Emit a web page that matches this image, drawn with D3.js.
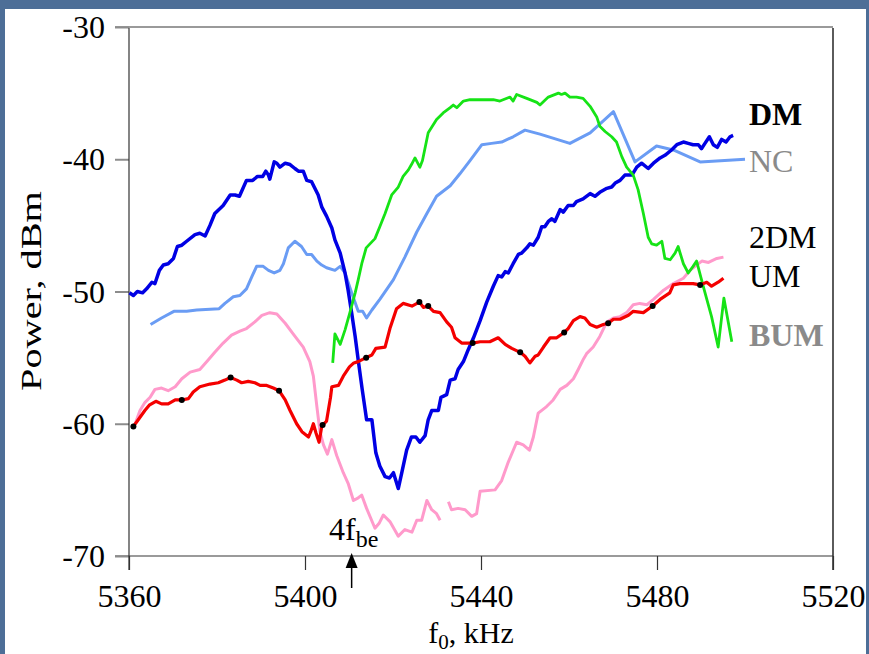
<!DOCTYPE html>
<html>
<head>
<meta charset="utf-8">
<script src="https://cdn.jsdelivr.net/npm/d3@7"></script>
<style>
  html, body { margin: 0; padding: 0; background: #4d6e97; }
  svg { display: block; }
</style>
</head>
<body>
<svg id="chart" width="869" height="654"></svg>
<script>
// Spectrum of the emission components vs. pump frequency f0 (kHz), power in dBm.
const xTicks = [5360, 5400, 5440, 5480, 5520];
const yTicks = [-30, -40, -50, -60, -70];
const fbe4 = 5410.6; // 4 x electron gyro-frequency marker

// DM
const dm = [[5360.1,-50.1],[5361.0,-50.3],[5361.9,-50.0],[5363.1,-50.1],[5364.0,-49.8],[5365.2,-49.3],[5365.9,-49.4],[5366.9,-48.4],[5367.8,-48.0],[5368.9,-47.9],[5370.1,-47.5],[5371.0,-46.6],[5372.0,-46.5],[5373.1,-46.2],[5375.0,-45.7],[5376.1,-45.6],[5377.3,-45.8],[5378.4,-45.0],[5379.5,-44.1],[5381.4,-43.5],[5383.0,-42.7],[5384.1,-42.7],[5385.1,-42.8],[5386.7,-41.6],[5388.1,-41.6],[5389.2,-41.3],[5390.4,-41.3],[5391.1,-40.9],[5391.7,-41.2],[5392.0,-41.5],[5393.0,-40.2],[5393.6,-40.3],[5394.3,-40.6],[5395.5,-40.3],[5396.6,-40.4],[5397.7,-40.7],[5398.5,-40.9],[5399.6,-40.9],[5400.4,-41.6],[5401.5,-41.7],[5403.0,-42.7],[5403.8,-43.6],[5404.9,-44.3],[5406.1,-45.2],[5406.8,-46.1],[5408.0,-47.1],[5409.1,-48.6],[5409.8,-49.9],[5410.6,-51.6],[5411.4,-53.4],[5412.1,-55.2],[5413.0,-57.4],[5414.0,-59.7],[5415.2,-59.7],[5416.1,-62.2],[5417.0,-63.2],[5418.2,-64.0],[5419.2,-64.1],[5420.1,-63.7],[5421.2,-64.9],[5422.0,-63.7],[5423.1,-62.0],[5424.2,-61.0],[5425.2,-61.0],[5426.1,-61.4],[5427.3,-60.9],[5428.0,-59.7],[5428.8,-59.0],[5430.3,-59.0],[5430.9,-58.0],[5432.2,-57.8],[5433.0,-56.7],[5434.1,-56.6],[5434.8,-55.9],[5436.0,-55.3],[5437.1,-54.4],[5438.3,-53.5],[5439.8,-52.2],[5441.3,-50.8],[5442.8,-49.6],[5443.9,-48.8],[5444.7,-48.9],[5445.5,-48.5],[5446.2,-48.6],[5447.3,-47.9],[5448.5,-47.2],[5449.2,-47.1],[5450.4,-46.7],[5451.1,-46.4],[5451.9,-46.5],[5453.0,-45.9],[5453.8,-45.1],[5454.5,-45.1],[5455.3,-44.7],[5456.1,-44.5],[5456.8,-44.7],[5458.0,-43.8],[5458.7,-44.0],[5459.8,-43.5],[5461.0,-43.5],[5461.7,-43.2],[5463.2,-43.0],[5464.8,-42.6],[5465.9,-42.8],[5467.0,-42.5],[5468.6,-42.2],[5469.7,-42.1],[5470.5,-41.8],[5471.6,-41.6],[5472.7,-41.2],[5474.3,-41.2],[5475.4,-40.6],[5476.5,-40.3],[5478.0,-40.7],[5479.2,-40.3],[5480.7,-39.9],[5481.8,-39.7],[5483.3,-39.3],[5484.5,-38.9],[5486.0,-38.7],[5487.1,-38.8],[5488.2,-38.9],[5489.4,-38.9],[5490.1,-39.2],[5490.9,-38.8],[5491.9,-38.3],[5492.8,-38.9],[5493.7,-39.1],[5494.7,-38.5],[5495.7,-38.7],[5496.6,-38.3],[5497.3,-38.2]];

// NC
const nc = [[5364.9,-52.5],[5367.4,-52.0],[5370.2,-51.5],[5373.1,-51.5],[5375.4,-51.4],[5380.5,-51.3],[5381.8,-50.9],[5383.7,-50.4],[5385.2,-50.3],[5386.7,-49.8],[5387.9,-48.9],[5389.0,-48.1],[5390.5,-48.1],[5391.7,-48.4],[5393.0,-48.6],[5394.3,-48.4],[5395.1,-47.9],[5396.2,-46.7],[5397.7,-46.2],[5399.2,-46.6],[5400.4,-47.2],[5401.5,-47.2],[5402.7,-47.7],[5403.8,-48.0],[5404.9,-48.2],[5406.8,-48.4],[5408.0,-48.1],[5409.1,-48.6],[5410.6,-50.1],[5412.1,-51.5],[5413.1,-51.5],[5414.0,-52.0],[5415.2,-51.4],[5417.0,-50.6],[5420.1,-49.1],[5422.7,-47.4],[5425.4,-45.5],[5427.7,-44.1],[5429.9,-42.8],[5433.0,-42.0],[5435.2,-41.1],[5437.5,-40.1],[5440.2,-38.9],[5442.4,-38.8],[5444.7,-38.7],[5447.3,-38.3],[5450.0,-37.8],[5453.4,-38.1],[5460.2,-38.8],[5464.8,-38.0],[5470.1,-36.4],[5475.0,-40.2],[5479.9,-39.0],[5483.7,-39.3],[5489.8,-40.2],[5500.0,-40.0]];

// BUM
const bum = [[5406.3,-55.4],[5406.8,-53.2],[5408.0,-54.0],[5409.1,-52.9],[5410.2,-51.6],[5411.4,-50.1],[5412.1,-49.1],[5412.9,-47.9],[5413.9,-46.7],[5415.9,-46.0],[5417.0,-45.1],[5418.2,-44.1],[5419.7,-42.7],[5421.2,-42.1],[5422.3,-41.3],[5423.5,-40.8],[5424.2,-40.4],[5425.0,-39.9],[5426.1,-40.6],[5426.7,-40.1],[5428.0,-38.0],[5429.9,-37.0],[5431.4,-36.5],[5433.0,-36.1],[5433.7,-35.9],[5434.5,-36.1],[5436.0,-35.6],[5437.5,-35.5],[5442.8,-35.5],[5444.3,-35.6],[5446.6,-35.3],[5447.3,-35.6],[5448.1,-35.1],[5450.4,-35.4],[5452.7,-35.7],[5453.4,-35.9],[5455.3,-35.3],[5457.6,-35.0],[5458.3,-35.1],[5459.1,-35.0],[5460.2,-35.3],[5461.7,-35.3],[5463.2,-35.4],[5464.8,-36.0],[5466.3,-36.8],[5467.0,-37.5],[5468.2,-37.9],[5469.7,-38.3],[5470.8,-38.7],[5472.0,-39.8],[5473.1,-40.6],[5474.6,-41.2],[5475.7,-42.3],[5476.9,-44.1],[5478.0,-45.9],[5478.8,-46.4],[5479.9,-46.5],[5481.1,-46.2],[5481.8,-47.5],[5483.0,-47.6],[5484.1,-47.1],[5484.8,-46.6],[5486.0,-47.9],[5487.1,-48.6],[5488.2,-48.1],[5489.0,-47.7],[5490.5,-49.6],[5492.4,-51.9],[5493.9,-54.2],[5495.2,-50.5],[5497.0,-53.8]];

// UM
const um = [[5361.0,-60.2],[5362.1,-59.7],[5363.6,-59.0],[5364.6,-58.6],[5366.1,-58.3],[5367.4,-58.5],[5368.9,-58.5],[5370.5,-58.2],[5372.0,-58.2],[5373.5,-58.1],[5374.6,-57.6],[5376.1,-57.2],[5378.4,-57.0],[5380.3,-56.9],[5381.8,-56.7],[5383.1,-56.5],[5384.5,-56.7],[5385.6,-56.9],[5387.1,-56.8],[5388.6,-56.9],[5389.8,-57.1],[5391.3,-57.1],[5392.8,-57.3],[5394.1,-57.5],[5395.5,-58.2],[5396.6,-59.0],[5398.1,-60.0],[5399.3,-60.6],[5400.8,-61.0],[5401.3,-60.6],[5401.9,-60.0],[5402.5,-60.7],[5403.2,-61.4],[5403.8,-60.2],[5404.0,-60.1],[5404.9,-59.8],[5405.8,-58.0],[5406.1,-57.2],[5407.6,-57.1],[5408.7,-56.4],[5410.1,-55.7],[5411.1,-55.4],[5412.1,-55.3],[5413.9,-55.0],[5415.2,-54.8],[5416.1,-54.3],[5418.2,-54.2],[5419.3,-52.8],[5420.8,-51.3],[5422.3,-50.9],[5424.3,-51.1],[5426.0,-50.8],[5426.9,-51.2],[5428.0,-51.1],[5429.2,-51.5],[5430.7,-51.6],[5432.2,-52.3],[5433.3,-52.7],[5434.1,-53.5],[5435.6,-53.9],[5436.9,-53.9],[5438.1,-53.9],[5439.8,-53.8],[5442.0,-53.8],[5443.9,-53.5],[5445.5,-54.0],[5447.0,-54.3],[5448.9,-54.6],[5450.0,-54.9],[5451.1,-55.4],[5452.3,-54.9],[5453.0,-54.8],[5454.2,-54.2],[5455.7,-53.5],[5457.2,-53.5],[5458.9,-53.1],[5459.8,-52.8],[5461.0,-52.2],[5462.5,-51.9],[5463.6,-52.0],[5464.8,-52.5],[5466.3,-52.7],[5467.8,-52.5],[5468.9,-52.4],[5470.1,-52.1],[5471.6,-52.1],[5473.5,-51.8],[5474.6,-51.5],[5476.9,-51.6],[5479.0,-51.1],[5480.7,-50.6],[5482.9,-50.1],[5483.7,-49.5],[5485.2,-49.4],[5488.2,-49.4],[5489.8,-49.5],[5491.3,-49.3],[5492.4,-49.6],[5493.9,-49.3],[5495.1,-49.0]];

// UM sample points marked with dots
const umMarks = [[5361.0,-60.2],[5372.0,-58.2],[5383.1,-56.5],[5394.1,-57.5],[5404.0,-60.1],[5413.9,-55.0],[5426.0,-50.8],[5428.0,-51.1],[5438.1,-53.9],[5448.9,-54.6],[5458.9,-53.1],[5468.9,-52.4],[5479.0,-51.1],[5489.8,-49.5]];

// 2DM (null = gap in the trace)
const dm2 = [[5361.4,-60.0],[5362.5,-59.0],[5363.6,-58.4],[5364.8,-58.0],[5365.9,-57.4],[5367.4,-57.3],[5368.9,-57.5],[5370.5,-57.2],[5372.0,-56.6],[5373.9,-56.1],[5376.1,-55.9],[5377.7,-55.3],[5379.5,-54.6],[5381.4,-53.9],[5383.3,-53.3],[5385.2,-53.0],[5386.7,-52.8],[5388.6,-52.3],[5390.2,-51.8],[5392.0,-51.6],[5393.6,-51.7],[5395.5,-52.4],[5397.3,-53.2],[5399.6,-54.2],[5401.1,-55.3],[5401.9,-56.4],[5402.7,-58.7],[5403.4,-60.6],[5404.2,-61.6],[5405.1,-62.3],[5406.1,-61.2],[5407.2,-62.4],[5408.7,-63.7],[5409.8,-64.5],[5411.0,-65.8],[5412.1,-65.6],[5412.9,-65.4],[5414.0,-66.4],[5415.9,-67.9],[5416.9,-67.5],[5417.8,-66.9],[5419.3,-67.4],[5421.2,-68.5],[5422.7,-68.0],[5424.3,-68.2],[5425.4,-67.3],[5426.5,-67.3],[5427.7,-65.8],[5428.8,-66.5],[5429.9,-66.8],[5430.7,-67.3],null,[5432.6,-65.9],[5433.3,-66.5],[5434.8,-66.4],[5436.4,-66.5],[5437.9,-67.0],[5439.0,-66.8],[5439.8,-65.1],[5443.2,-65.0],[5444.7,-64.3],[5446.2,-62.9],[5448.1,-61.4],[5449.6,-61.6],[5451.0,-62.0],[5451.9,-61.0],[5453.0,-59.2],[5454.9,-58.7],[5456.4,-58.2],[5458.0,-57.4],[5459.5,-57.1],[5461.0,-56.6],[5462.1,-55.9],[5463.3,-55.1],[5464.0,-54.7],[5465.5,-54.2],[5467.0,-53.4],[5468.6,-52.3],[5470.1,-52.0],[5471.6,-51.9],[5473.1,-51.6],[5474.6,-51.0],[5476.1,-50.9],[5477.7,-51.0],[5479.2,-50.6],[5481.5,-49.9],[5483.7,-49.4],[5486.0,-49.0],[5487.5,-48.4],[5489.0,-48.0],[5490.2,-47.7],[5491.7,-47.8],[5493.6,-47.5],[5495.1,-47.4]];

const series = [
  { name: "NC",  data: nc,  color: "#6a9cf4", width: 3 },
  { name: "2DM", data: dm2, color: "#ff9acb", width: 3 },
  { name: "DM",  data: dm,  color: "#0000e4", width: 3.5 },
  { name: "BUM", data: bum, color: "#16e316", width: 2.8 },
  { name: "UM",  data: um,  color: "#f40000", width: 3.2 }
];

const seriesLabels = [
  { text: "DM",  y: 125, color: "#000",    weight: "bold" },
  { text: "NC",  y: 172, color: "#8a8a8a", weight: "normal" },
  { text: "2DM", y: 248, color: "#000",    weight: "normal" },
  { text: "UM",  y: 287, color: "#000",    weight: "normal" },
  { text: "BUM", y: 346, color: "#8a8a8a", weight: "bold" }
];

const svg = d3.select("#chart");
const font = "'Liberation Serif', 'Times New Roman', serif";

// white panel inside the blue frame
svg.append("rect").attr("x", 5).attr("y", 9).attr("width", 861).attr("height", 650).attr("fill", "#fff");

const x = d3.scaleLinear().domain([5360, 5520]).range([129, 833]);
const y = d3.scaleLinear().domain([-70, -30]).range([556, 27]);
const bottom = 570;

// horizontal lines at the ends of the power range
svg.append("g").selectAll("line").data([-30, -70]).join("line")
  .attr("x1", 115).attr("x2", x(5520))
  .attr("y1", d => y(d)).attr("y2", d => y(d))
  .attr("stroke", "#9a9a9a").attr("stroke-width", 2.2);

// y axis
const yAxis = svg.append("g").attr("transform", `translate(${x(5360)},0)`)
  .call(d3.axisLeft(y).tickValues(yTicks).tickSize(14).tickPadding(10).tickFormat(d => String(d)));
yAxis.select(".domain").remove();
yAxis.selectAll(".tick line").attr("stroke", "#8c8c8c").attr("stroke-width", 2);
yAxis.selectAll(".tick text").attr("font-family", font).attr("font-size", 32).attr("fill", "#000").attr("dy", "0.33em");

// x axis
const xAxis = svg.append("g").attr("transform", `translate(0,${y(-70)})`)
  .call(d3.axisBottom(x).tickValues(xTicks).tickSize(bottom - y(-70)).tickPadding(0).tickFormat(d => String(d)));
xAxis.select(".domain").remove();
xAxis.selectAll(".tick line").attr("stroke", "#333").attr("stroke-width", 1.2);
xAxis.selectAll(".tick text").attr("font-family", font).attr("font-size", 32).attr("fill", "#000")
  .attr("y", 51).attr("dy", 0);

// frame verticals
svg.append("g").selectAll("line").data([5360, 5520]).join("line")
  .attr("x1", d => x(d)).attr("x2", d => x(d))
  .attr("y1", y(-30) + 1).attr("y2", bottom)
  .attr("stroke", "#333").attr("stroke-width", d => d === 5520 ? 1.6 : 1.2);

// traces
const line = d3.line().defined(d => d !== null).x(d => x(d[0])).y(d => y(d[1]));
svg.append("g").selectAll("path").data(series).join("path")
  .attr("d", d => line(d.data))
  .attr("fill", "none")
  .attr("stroke", d => d.color)
  .attr("stroke-width", d => d.width)
  .attr("stroke-linejoin", "round");

// UM dots
svg.append("g").selectAll("circle").data(umMarks).join("circle")
  .attr("cx", d => x(d[0])).attr("cy", d => y(d[1])).attr("r", 3).attr("fill", "#000");

// series labels
svg.append("g").selectAll("text").data(seriesLabels).join("text")
  .attr("x", 749).attr("y", d => d.y)
  .attr("font-family", font).attr("font-size", 32)
  .attr("font-weight", d => d.weight).attr("fill", d => d.color)
  .text(d => d.text);

// 4 f_be arrow
const ax = x(fbe4);
svg.append("line").attr("x1", ax).attr("x2", ax).attr("y1", 566).attr("y2", 588)
  .attr("stroke", "#000").attr("stroke-width", 1.5);
svg.append("path").attr("d", `M${ax},553 L${ax - 6},568 L${ax + 6},568 Z`).attr("fill", "#000");
const fl = svg.append("text").attr("x", ax + 2).attr("y", 540).attr("text-anchor", "middle")
  .attr("font-family", font).attr("font-size", 32).attr("fill", "#000");
fl.append("tspan").text("4f");
fl.append("tspan").attr("font-size", 24).attr("dy", 7).text("be");

// axis titles
const xt = svg.append("text").attr("x", 471).attr("y", 643).attr("text-anchor", "middle")
  .attr("font-family", font).attr("font-size", 30).attr("fill", "#000");
xt.append("tspan").text("f");
xt.append("tspan").attr("font-size", 21).attr("dy", 6).text("0");
xt.append("tspan").attr("dy", -6).text(", kHz");

svg.append("text").attr("transform", "translate(41,291) rotate(-90)")
  .attr("text-anchor", "middle").attr("font-family", font).attr("font-size", 30).attr("fill", "#000")
  .attr("textLength", 200).attr("lengthAdjust", "spacingAndGlyphs")
  .text("Power, dBm");
</script>
</body>
</html>
